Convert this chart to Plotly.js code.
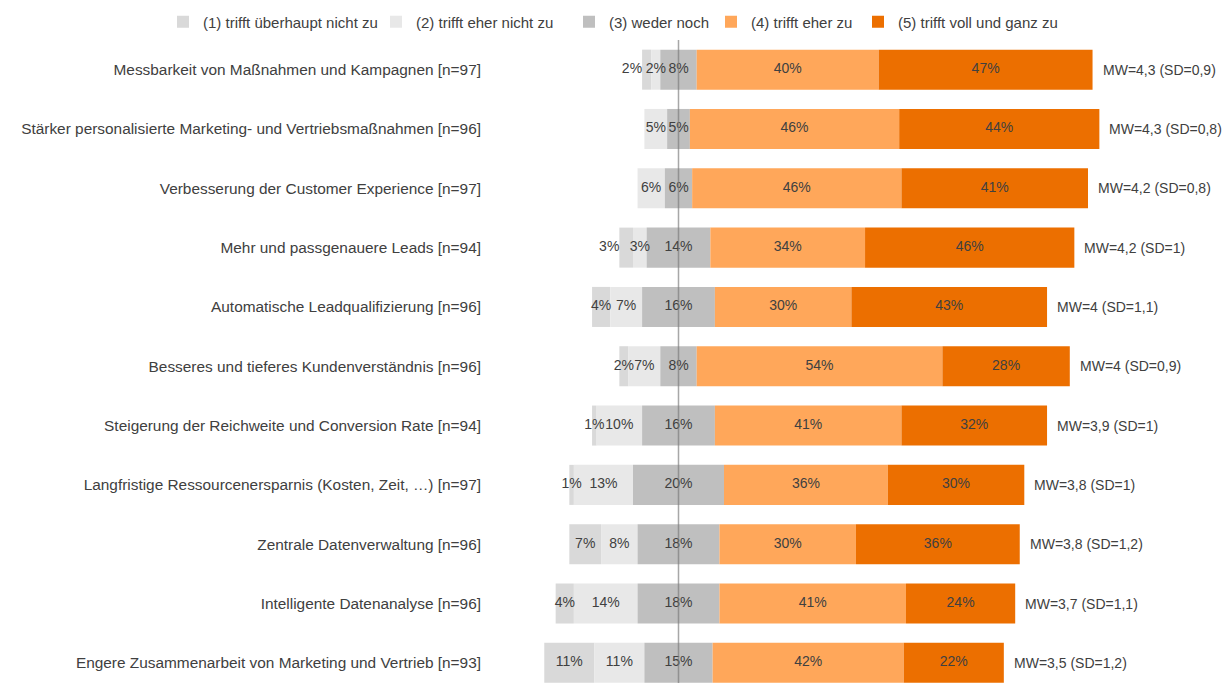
<!DOCTYPE html>
<html>
<head>
<meta charset="utf-8">
<script src="https://cdn.plot.ly/plotly-3.0.1.min.js"></script>
<style>html,body{margin:0;padding:0;background:#fff;}#chart{width:1227px;height:683px;}</style>
</head>
<body>
<div id="chart"></div>
<script>
const categories = [
  "Messbarkeit von Maßnahmen und Kampagnen [n=97]",
  "Stärker personalisierte Marketing- und Vertriebsmaßnahmen [n=96]",
  "Verbesserung der Customer Experience [n=97]",
  "Mehr und passgenauere Leads [n=94]",
  "Automatische Leadqualifizierung [n=96]",
  "Besseres und tieferes Kundenverständnis [n=96]",
  "Steigerung der Reichweite und Conversion Rate [n=94]",
  "Langfristige Ressourcenersparnis (Kosten, Zeit, …) [n=97]",
  "Zentrale Datenverwaltung [n=96]",
  "Intelligente Datenanalyse [n=96]",
  "Engere Zusammenarbeit von Marketing und Vertrieb [n=93]"
];
const seriesNames = [
  "(1) trifft überhaupt nicht zu",
  "(2) trifft eher nicht zu",
  "(3) weder noch",
  "(4) trifft eher zu",
  "(5) trifft voll und ganz zu"
];
const s1 = [2, 0, 0, 3, 4, 2, 1, 1, 7, 4, 11];
const s2 = [2, 5, 6, 3, 7, 7, 10, 13, 8, 14, 11];
const s3 = [8, 5, 6, 14, 16, 8, 16, 20, 18, 18, 15];
const s4 = [40, 46, 46, 34, 30, 54, 41, 36, 30, 41, 42];
const s5 = [47, 44, 41, 46, 43, 28, 32, 30, 36, 24, 22];
const meanLabels = [
  "MW=4,3 (SD=0,9)", "MW=4,3 (SD=0,8)", "MW=4,2 (SD=0,8)", "MW=4,2 (SD=1)",
  "MW=4 (SD=1,1)", "MW=4 (SD=0,9)", "MW=3,9 (SD=1)", "MW=3,8 (SD=1)",
  "MW=3,8 (SD=1,2)", "MW=3,7 (SD=1,1)", "MW=3,5 (SD=1,2)"
];

const colors = ["#D9D9D9", "#E8E8E8", "#BFBFBF", "#FFA75A", "#EC6F00"];
const series = [s1, s2, s3, s4, s5];
const FONT = "Liberation Sans, Arial, sans-serif";
const TXT = "#404040";
const legendIds = ["legend", "legend2", "legend3", "legend4", "legend5"];
const legendX = [163, 376, 569, 711, 858];

// diverging: neutral category centred on zero
const starts = categories.map((c, i) => -(s1[i] + s2[i] + s3[i] / 2));
const bases = series.map((vals, k) => vals.map((v, i) => {
  let b = starts[i];
  for (let j = 0; j < k; j++) b += series[j][i];
  return b;
}));

const barTraces = series.map((vals, k) => ({
  type: "bar",
  orientation: "h",
  name: seriesNames[k],
  legend: legendIds[k],
  y: categories,
  x: vals,
  base: bases[k],
  marker: {color: colors[k], line: {width: 0}},
  hoverinfo: "skip"
}));

// value labels drawn above all bars
const labelTraces = series.map((vals, k) => {
  // crowded tiny first segment: label moves just left of the bar
  const crowded = vals.map((v, i) => k === 0 && v > 0 && v <= 3 && s2[i] <= 3);
  return {
    type: "scatter",
    mode: "text",
    showlegend: false,
    y: categories,
    x: vals.map((v, i) => crowded[i] ? bases[k][i] : bases[k][i] + v / 2),
    text: vals.map(v => v > 0 ? v + "%" : ""),
    textposition: crowded.map(c => c ? "middle left" : "middle center"),
    textfont: {family: FONT, size: 14, color: TXT},
    cliponaxis: false,
    hoverinfo: "skip"
  };
});

const annotations = categories.map((c, i) => ({
  x: starts[i] + s1[i] + s2[i] + s3[i] + s4[i] + s5[i],
  y: c,
  xref: "x", yref: "y",
  text: meanLabels[i],
  showarrow: false,
  xanchor: "left",
  xshift: 8,
  font: {family: FONT, size: 14, color: TXT}
}));

const layout = {
  width: 1227, height: 683,
  margin: {l: 490, r: 0, t: 40, b: 0, pad: 0, autoexpand: false},
  paper_bgcolor: "#fff", plot_bgcolor: "#fff",
  barmode: "overlay",
  bargap: 0.325,
  font: {family: FONT, color: TXT},
  xaxis: {range: [-41.43, 120.55], showgrid: false, zeroline: false, showticklabels: false, showline: false, fixedrange: true},
  yaxis: {type: "category", range: [10.34, -0.5], showgrid: false, zeroline: false, showline: false, ticks: "",
          tickfont: {family: FONT, size: 15.4, color: TXT}, ticklabelstandoff: 8, fixedrange: true},
  showlegend: true,
  shapes: [{type: "line", xref: "x", yref: "paper", x0: 0, x1: 0, y0: 0, y1: 1, layer: "above",
            line: {color: "rgba(120,120,120,0.65)", width: 1.5}}],
  annotations: annotations
};
legendIds.forEach((id, k) => {
  layout[id] = {orientation: "h", xref: "container", yref: "container", x: legendX[k] / 1227, xanchor: "left",
                y: 1 - 22 / 683, yanchor: "middle", bgcolor: "rgba(0,0,0,0)",
                font: {family: FONT, size: 15, color: TXT}, itemclick: false, itemdoubleclick: false};
});

Plotly.newPlot("chart", barTraces.concat(labelTraces), layout, {displayModeBar: false, staticPlot: true});
</script>
</body>
</html>
